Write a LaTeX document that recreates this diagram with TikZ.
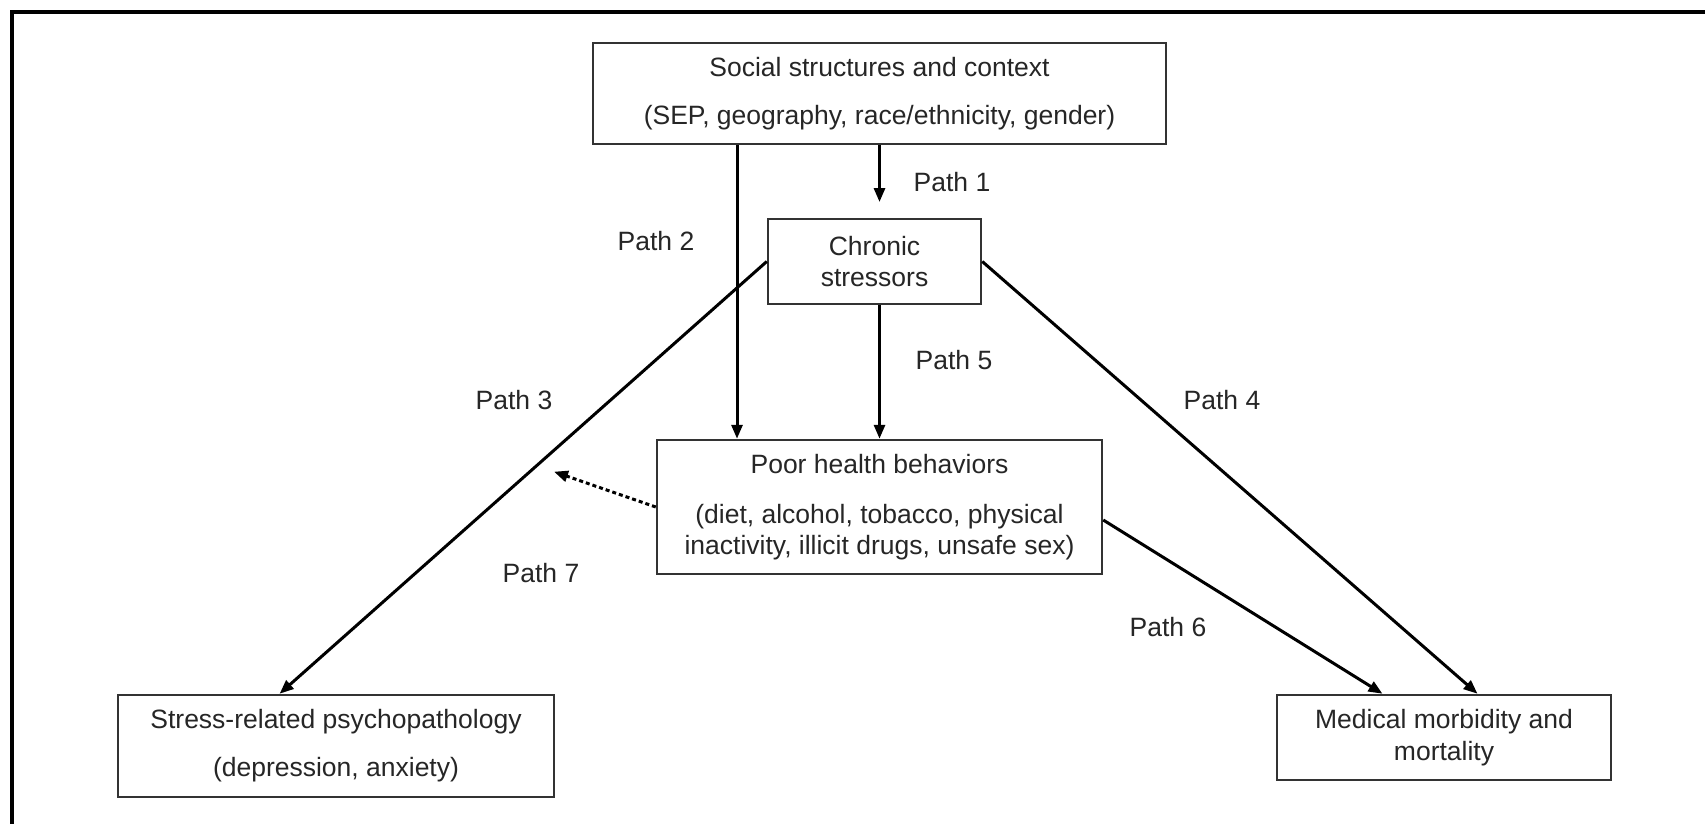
\documentclass[tikz,border=0pt]{standalone}
\usepackage{fontspec}
\setmainfont{Liberation Sans}
\usetikzlibrary{arrows.meta}
\begin{document}
\begin{tikzpicture}[x=1pt,y=-1pt,
  box/.style={draw=black!80, line width=2.5pt, inner sep=0pt, align=center,
    font=\fontsize{26.5}{31.6}\selectfont, text=black!85},
  lbl/.style={font=\fontsize{26.5}{31.6}\selectfont, text=black!85, inner sep=0pt},
  conn/.style={line width=3pt, -{Triangle[length=14pt,width=11pt]}},
  dotconn/.style={line width=3pt, dash pattern=on 4pt off 3pt, -{Triangle[length=14pt,width=11pt]}}
]
\useasboundingbox (0,0) rectangle (1705,824);
\fill[white] (0,0) rectangle (1705,824);
% frame (top and left edges)
\draw[line width=4pt] (12,824) -- (12,12) -- (1705,12);

% boxes
\node[box, minimum width=573pt, minimum height=101pt] (social) at (879.5,93.5)
  {Social structures and context\\[16.4pt](SEP, geography, race/ethnicity, gender)};
\node[box, minimum width=213pt, minimum height=85pt] (chronic) at (874.5,261.5)
  {Chronic\\stressors};
\node[box, minimum width=445pt, minimum height=134pt] (poor) at (879.5,507)
  {Poor health behaviors\\[18.4pt](diet, alcohol, tobacco, physical\\inactivity, illicit drugs,\ unsafe sex)};
\node[box, minimum width=436pt, minimum height=102pt] (stress) at (336,746)
  {Stress-related psychopathology\\[16.4pt](depression, anxiety)};
\node[box, minimum width=334pt, minimum height=85pt] (medical) at (1444,737.5)
  {Medical morbidity and\\mortality};

% helper coordinates
\coordinate (p1end) at (879.5,202);
\coordinate (p2x) at (737,0);
\coordinate (p3x) at (279.6,0);
\coordinate (p4x) at (1477.5,0);
\coordinate (p6x) at (1382.5,0);
\coordinate (p6start) at ([yshift=-13pt]poor.east);
\coordinate (p7end) at (554,471.7);

% connectors
\draw[conn] (social.south) -- (p1end);
\draw[conn] (social.south -| p2x) -- (poor.north -| p2x);
\draw[conn] (chronic.south -| poor.north) -- (poor.north);
\draw[conn] (chronic.west) -- (stress.north -| p3x);
\draw[conn] (chronic.east) -- (medical.north -| p4x);
\draw[conn] (p6start) -- (medical.north -| p6x);
\draw[dotconn] (poor.west) -- (p7end);

% labels
\node[lbl] (l1) at (952,182) {Path 1};
\node[lbl] (l2) at (656,241) {Path 2};
\node[lbl] (l3) at (514,400) {Path 3};
\node[lbl] (l4) at (1222,400) {Path 4};
\node[lbl] (l5) at (954,360) {Path 5};
\node[lbl] (l6) at (1168,627) {Path 6};
\node[lbl] (l7) at (541,573) {Path 7};
\end{tikzpicture}
\end{document}
